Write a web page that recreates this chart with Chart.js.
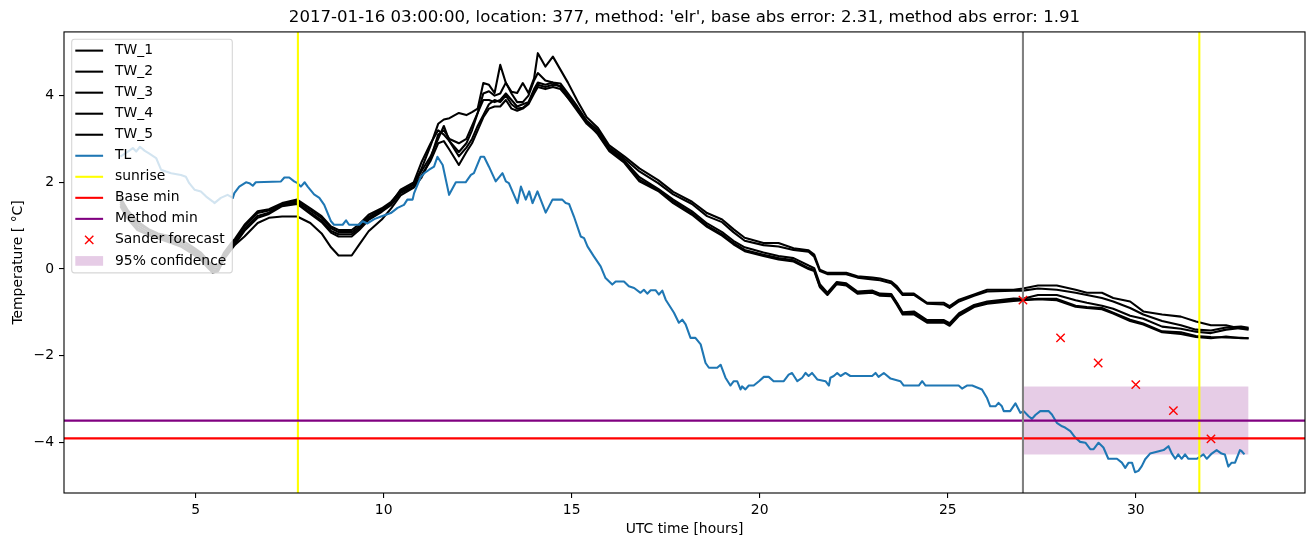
<!DOCTYPE html>
<html>
<head>
<meta charset="utf-8">
<script src="https://cdn.jsdelivr.net/npm/chart.js@4.4.1/dist/chart.umd.min.js"></script>
<style>
  html, body { margin: 0; padding: 0; background: #ffffff; }
  canvas { display: block; }
</style>
</head>
<body>
<canvas id="c" width="1313" height="547"></canvas>
<script>
// ---------------- data ----------------
const TITLE = "2017-01-16 03:00:00, location: 377, method: 'elr', base abs error: 2.31, method abs error: 1.91";
const X_LABEL = "UTC time [hours]";
const Y_LABEL = "Temperature [ °C]";

const TW_hours = [3.0,3.2,3.45,3.75,4.0,4.35,4.6,4.9,5.15,5.3,5.45,5.6,5.75,5.95,
  6.05,6.3,6.65,6.95,7.3,7.7,8.05,8.35,8.6,8.8,9.15,9.35,9.6,9.95,10.2,
  10.45,10.8,11.0,11.25,11.45,
  11.6,11.75,12.0,12.2,12.35,12.5,12.65,12.8,12.95,13.1,13.25,13.4,13.55,13.7,13.85,14.0,14.1,14.3,14.5,14.7,14.9,15.15,15.4,
  15.7,16.0,16.4,16.8,17.3,17.7,18.2,18.6,19.0,19.3,19.6,20.1,20.5,20.9,21.3,21.45,21.6,21.8,22.05,22.3,22.6,23.0,23.2,23.5,23.65,23.8,24.1,24.45,24.9,25.05,25.3,25.7,26.05,26.75,27.0,
  27.4,27.9,28.4,28.7,29.1,29.4,29.85,30.2,30.7,31.2,31.6,32.0,32.4,32.8,33.0];

const TW_1 = [1.65,1.35,1.1,0.92,0.82,0.75,0.68,0.52,0.37,0.22,0.08,0.1,0.37,0.6,
  0.7,1.02,1.33,1.38,1.52,1.6,1.4,1.22,0.98,0.9,0.9,1.03,1.25,1.4,1.55,
  1.8,1.95,2.3,2.85,3.35,
  3.45,3.48,3.6,3.55,3.62,3.7,4.29,4.25,4.06,4.71,4.29,4.09,4.06,4.29,4.06,4.4,4.98,4.67,4.9,4.6,4.3,3.88,3.5,
  3.25,2.85,2.6,2.32,2.05,1.78,1.55,1.29,1.14,0.92,0.72,0.6,0.6,0.48,0.43,0.33,-0.02,-0.09,-0.09,-0.09,-0.17,-0.2,-0.22,-0.29,-0.4,-0.57,-0.57,-0.78,-0.78,-0.86,-0.71,-0.59,-0.48,-0.48,-0.45,
  -0.38,-0.38,-0.48,-0.55,-0.55,-0.67,-0.75,-0.98,-1.05,-1.1,-1.21,-1.3,-1.3,-1.38,-1.4];

const TW_2 = [1.6,1.3,1.05,0.9,0.8,0.7,0.62,0.48,0.33,0.18,0.04,0.07,0.33,0.56,
  0.65,0.98,1.29,1.35,1.5,1.56,1.35,1.18,0.94,0.85,0.85,0.98,1.2,1.37,1.52,
  1.83,2.0,2.45,2.9,3.2,
  3.1,2.95,2.7,2.9,3.2,3.6,4.05,4.1,4.0,4.05,4.3,4.05,3.85,3.85,4.0,4.35,4.52,4.35,4.3,4.28,4.05,3.75,3.42,
  3.2,2.8,2.55,2.25,1.98,1.72,1.5,1.22,1.08,0.85,0.65,0.55,0.52,0.44,0.4,0.28,-0.05,-0.12,-0.12,-0.12,-0.2,-0.24,-0.26,-0.33,-0.45,-0.6,-0.6,-0.8,-0.82,-0.9,-0.75,-0.62,-0.52,-0.5,-0.5,
  -0.45,-0.48,-0.55,-0.6,-0.67,-0.75,-0.9,-1.05,-1.2,-1.3,-1.4,-1.42,-1.35,-1.33,-1.36];

const TW_3 = [1.55,1.25,1.0,0.85,0.75,0.67,0.6,0.44,0.29,0.14,0.0,0.02,0.29,0.52,
  0.6,0.92,1.22,1.3,1.48,1.52,1.3,1.12,0.88,0.8,0.8,0.94,1.17,1.35,1.5,
  1.78,1.95,2.25,2.6,3.0,
  3.3,2.95,2.6,2.8,3.0,3.3,3.55,3.8,3.9,3.85,4.0,3.8,3.7,3.72,3.82,4.1,4.25,4.2,4.25,4.22,4.0,3.68,3.38,
  3.15,2.78,2.5,2.12,1.85,1.6,1.33,1.05,0.85,0.65,0.5,0.38,0.3,0.25,0.08,0.02,-0.35,-0.55,-0.3,-0.33,-0.52,-0.5,-0.57,-0.58,-0.78,-1.0,-0.98,-1.18,-1.18,-1.25,-1.02,-0.83,-0.75,-0.68,-0.69,
  -0.6,-0.6,-0.72,-0.78,-0.85,-0.92,-1.08,-1.15,-1.33,-1.38,-1.45,-1.48,-1.4,-1.36,-1.38];

const TW_4 = [1.5,1.2,0.95,0.8,0.72,0.62,0.55,0.4,0.25,0.1,-0.04,-0.02,0.25,0.48,
  0.58,0.88,1.18,1.27,1.45,1.5,1.27,1.08,0.84,0.75,0.75,0.9,1.13,1.32,1.48,
  1.75,1.9,2.15,2.5,2.9,
  2.95,2.75,2.4,2.7,2.9,3.2,3.5,3.7,3.75,3.75,3.9,3.7,3.65,3.7,3.8,4.05,4.2,4.15,4.2,4.15,3.95,3.65,3.35,
  3.12,2.75,2.48,2.06,1.83,1.56,1.28,1.0,0.8,0.6,0.44,0.33,0.25,0.2,0.02,-0.02,-0.4,-0.57,-0.32,-0.35,-0.55,-0.52,-0.59,-0.6,-0.8,-1.03,-1.01,-1.21,-1.21,-1.28,-1.05,-0.86,-0.78,-0.71,-0.71,
  -0.69,-0.69,-0.85,-0.88,-0.9,-1.01,-1.17,-1.26,-1.44,-1.46,-1.55,-1.57,-1.58,-1.59,-1.6];

const TW_5 = [1.45,1.15,0.9,0.78,0.7,0.6,0.52,0.36,0.2,0.05,-0.08,-0.05,0.22,0.45,
  0.56,0.75,1.06,1.18,1.21,1.21,1.06,0.82,0.5,0.31,0.31,0.56,0.87,1.14,1.4,
  1.7,1.88,2.1,2.55,3.1,
  3.2,3.0,2.9,3.0,3.3,3.6,3.9,3.9,3.85,3.9,4.05,3.9,3.75,3.8,3.85,4.15,4.3,4.25,4.3,4.2,3.95,3.7,3.4,
  3.1,2.72,2.45,2.02,1.8,1.52,1.25,0.97,0.77,0.57,0.41,0.3,0.22,0.17,0.0,-0.05,-0.42,-0.6,-0.35,-0.38,-0.57,-0.55,-0.62,-0.63,-0.83,-1.05,-1.05,-1.24,-1.24,-1.31,-1.08,-0.88,-0.8,-0.74,-0.72,
  -0.7,-0.72,-0.87,-0.9,-0.93,-1.03,-1.2,-1.28,-1.46,-1.5,-1.57,-1.6,-1.56,-1.6,-1.6];

const TL_hours = [3.0,3.2,3.33,3.42,3.52,3.64,3.77,3.95,4.08,4.21,
  4.35,4.61,4.74,4.83,4.97,5.14,5.28,5.45,5.5,5.67,
  5.85,5.99,6.03,6.16,6.34,6.43,6.52,6.6,7.27,7.36,
  7.49,7.62,7.71,7.8,7.9,7.98,8.15,8.29,8.42,8.51,
  8.6,8.68,8.91,9.0,9.08,9.35,9.44,9.57,9.75,9.93,
  10.19,10.37,10.54,10.63,10.77,10.81,10.99,11.08,11.21,11.34,
  11.43,11.57,11.74,11.92,12.18,12.32,12.4,12.58,12.67,12.8,
  12.98,13.16,13.25,13.33,13.56,13.65,13.78,13.87,13.96,14.09,
  14.31,14.49,14.75,14.84,14.93,15.06,15.24,15.33,15.42,15.59,
  15.77,15.9,16.08,16.17,16.39,16.52,16.66,16.83,16.92,17.01,
  17.1,17.23,17.32,17.41,17.5,17.72,17.85,17.94,18.03,18.16,
  18.29,18.43,18.56,18.65,18.87,18.96,19.09,19.22,19.31,19.4,
  19.49,19.53,19.62,19.71,19.84,19.98,20.11,20.24,20.37,20.64,
  20.77,20.86,21.0,21.13,21.22,21.3,21.39,21.53,21.75,21.84,
  21.88,21.97,22.06,22.15,22.28,22.41,22.99,23.08,23.16,23.3,
  23.48,23.74,23.83,24.23,24.32,24.41,25.29,25.38,25.51,25.65,
  25.91,26.04,26.13,26.27,26.35,26.44,26.49,26.66,26.8,26.93,
  27.02,27.15,27.24,27.33,27.46,27.68,27.77,27.9,28.04,28.12,
  28.26,28.39,28.52,28.66,28.79,28.88,29.01,29.14,29.27,29.5,
  29.63,29.72,29.81,29.9,29.98,30.07,30.16,30.25,30.38,30.74,
  30.87,30.96,31.05,31.13,31.22,31.31,31.4,31.62,31.8,31.89,
  32.02,32.15,32.28,32.37,32.46,32.55,32.64,32.77,32.81,32.89];

const TL_values = [2.59,2.71,2.79,2.71,2.82,2.73,2.66,2.56,2.29,2.25,
  2.21,2.17,2.13,1.98,1.83,1.79,1.67,1.56,1.52,1.64,
  1.71,1.64,1.75,1.9,2.0,1.98,1.92,2.0,2.02,2.11,
  2.11,2.02,1.98,1.9,2.0,1.9,1.72,1.64,1.48,1.29,
  1.1,1.02,1.02,1.12,1.02,1.02,1.1,1.05,1.15,1.21,
  1.29,1.41,1.48,1.6,1.6,1.75,2.13,2.21,2.29,2.36,
  2.59,2.4,1.71,2.0,2.0,2.17,2.21,2.59,2.59,2.36,
  2.02,2.21,2.02,1.98,1.52,1.9,1.6,1.79,1.52,1.79,
  1.3,1.6,1.6,1.52,1.5,1.21,0.75,0.71,0.52,0.29,
  0.06,-0.21,-0.36,-0.29,-0.29,-0.4,-0.44,-0.55,-0.48,-0.57,
  -0.49,-0.49,-0.59,-0.5,-0.71,-1.01,-1.24,-1.17,-1.28,-1.59,
  -1.59,-1.74,-2.17,-2.28,-2.28,-2.21,-2.51,-2.69,-2.59,-2.59,
  -2.78,-2.71,-2.78,-2.69,-2.69,-2.59,-2.49,-2.49,-2.59,-2.59,
  -2.44,-2.4,-2.59,-2.51,-2.4,-2.47,-2.4,-2.55,-2.59,-2.69,
  -2.51,-2.47,-2.4,-2.47,-2.4,-2.47,-2.47,-2.4,-2.49,-2.4,
  -2.53,-2.59,-2.69,-2.69,-2.59,-2.69,-2.69,-2.76,-2.69,-2.69,
  -2.78,-2.97,-3.17,-3.17,-3.09,-3.17,-3.28,-3.28,-3.1,-3.32,
  -3.28,-3.4,-3.46,-3.37,-3.28,-3.28,-3.36,-3.55,-3.63,-3.66,
  -3.74,-3.89,-3.99,-4.01,-4.16,-4.16,-4.01,-4.12,-4.38,-4.38,
  -4.47,-4.59,-4.47,-4.47,-4.69,-4.66,-4.55,-4.39,-4.26,-4.18,
  -4.09,-4.26,-4.38,-4.28,-4.38,-4.28,-4.38,-4.38,-4.28,-4.38,
  -4.26,-4.18,-4.26,-4.28,-4.56,-4.47,-4.47,-4.18,-4.2,-4.28];

const sunrise_hours = [7.72, 31.69];
const base_min = -3.91;
const method_min = -3.50;
const forecast_time = 27;
const sander_hours = [27, 28, 29, 30, 31, 32];
const sander_values = [-0.72, -1.59, -2.17, -2.67, -3.27, -3.92];
const conf_hours = [27, 33];
const conf_low = -4.28;
const conf_high = -2.71;

const X_MIN = 1.5, X_MAX = 34.5, Y_MIN = -5.17, Y_MAX = 5.47;
const X_TICK_STEP = 5, Y_TICK_STEP = 2;

// ---------------- helpers ----------------
const FONT = "'DejaVu Sans', 'Liberation Sans', sans-serif";
const LW = 2.08;
const zip = (xs, ys) => xs.map((x, i) => ({x: x, y: ys[i]}));
const vline = (xs) => {
  const out = [];
  xs.forEach((x, i) => {
    if (i > 0) out.push({x: x, y: null});
    out.push({x: x, y: -100}, {x: x, y: 100});
  });
  return out;
};
const hline = (y) => [{x: -100, y: y}, {x: 100, y: y}];

const lineDs = (label, data, color, order, legendKind) => ({
  label, data, borderColor: color, backgroundColor: color, borderWidth: LW,
  pointRadius: 0, pointHoverRadius: 0, tension: 0, fill: false, spanGaps: false,
  borderJoinStyle: 'round', borderCapStyle: 'butt', order, legendKind
});

const TW_sets = [TW_1, TW_2, TW_3, TW_4, TW_5];
const datasets = [];
TW_sets.forEach((vals, i) => {
  datasets.push(lineDs('TW_' + (i + 1), zip(TW_hours, vals), '#000000', 90 - i, 'line'));
});
datasets.push(lineDs('TL', zip(TL_hours, TL_values), '#1f77b4', 80, 'line'));
datasets.push(lineDs('sunrise', vline(sunrise_hours), '#ffff00', 70, 'line'));
datasets.push(lineDs('Base min', hline(base_min), '#ff0000', 60, 'line'));
datasets.push(lineDs('Method min', hline(method_min), '#800080', 50, 'line'));
datasets.push(lineDs('forecast time', vline([forecast_time]), '#808080', 45, null));
datasets.push({
  label: 'Sander forecast', data: zip(sander_hours, sander_values), showLine: false,
  pointStyle: 'crossRot', pointRadius: 5.9, pointHoverRadius: 5.9, pointBorderWidth: 1.4,
  pointBorderColor: '#ff0000', pointBackgroundColor: '#ff0000', borderColor: '#ff0000',
  order: 10, legendKind: 'x'
});
datasets.push({
  label: 'conf low', data: zip(conf_hours, conf_hours.map(() => conf_low)),
  borderWidth: 0, pointRadius: 0, borderColor: 'rgba(0,0,0,0)', fill: false, order: 101, legendKind: null
});
datasets.push({
  label: '95% confidence', data: zip(conf_hours, conf_hours.map(() => conf_high)),
  borderWidth: 0, pointRadius: 0, borderColor: 'rgba(0,0,0,0)',
  backgroundColor: 'rgba(128,0,128,0.2)', fill: '-1', order: 100, legendKind: 'patch'
});

// ---------------- plugins ----------------
const framePlugin = {
  id: 'frame',
  afterDatasetsDraw(chart) {
    const {ctx, chartArea: a} = chart;
    ctx.save();
    ctx.strokeStyle = '#000';
    ctx.lineWidth = 1.1;
    ctx.strokeRect(a.left, a.top, a.right - a.left, a.bottom - a.top);
    ctx.restore();
  }
};

const legendPlugin = {
  id: 'mplLegend',
  afterDraw(chart) {
    const {ctx, chartArea: a} = chart;
    const items = chart.data.datasets.filter(d => d.legendKind);
    const x0 = a.left + 7.7, y0 = a.top + 7.3;
    const w = 160.6, rowH = 21.03;
    const h = 11.4 * 2 + rowH * (items.length - 1) + 0.6;
    ctx.save();
    const r = 2.8;
    ctx.beginPath();
    ctx.moveTo(x0 + r, y0);
    ctx.lineTo(x0 + w - r, y0);
    ctx.arcTo(x0 + w, y0, x0 + w, y0 + r, r);
    ctx.lineTo(x0 + w, y0 + h - r);
    ctx.arcTo(x0 + w, y0 + h, x0 + w - r, y0 + h, r);
    ctx.lineTo(x0 + r, y0 + h);
    ctx.arcTo(x0, y0 + h, x0, y0 + h - r, r);
    ctx.lineTo(x0, y0 + r);
    ctx.arcTo(x0, y0, x0 + r, y0, r);
    ctx.closePath();
    ctx.fillStyle = 'rgba(255,255,255,0.8)';
    ctx.fill();
    ctx.strokeStyle = 'rgba(204,204,204,0.8)';
    ctx.lineWidth = 1.1;
    ctx.stroke();

    ctx.font = '13.9px ' + FONT;
    ctx.textBaseline = 'middle';
    ctx.textAlign = 'left';
    items.forEach((d, i) => {
      const cy = y0 + 11.4 + i * rowH;
      const hx0 = x0 + 3.6, hx1 = x0 + 31.4, hc = (hx0 + hx1) / 2;
      if (d.legendKind === 'line') {
        ctx.strokeStyle = d.borderColor;
        ctx.lineWidth = LW;
        ctx.lineCap = 'butt';
        ctx.beginPath();
        ctx.moveTo(hx0, cy);
        ctx.lineTo(hx1, cy);
        ctx.stroke();
      } else if (d.legendKind === 'x') {
        const s = 4.17;
        ctx.strokeStyle = d.pointBorderColor;
        ctx.lineWidth = 1.4;
        ctx.beginPath();
        ctx.moveTo(hc - s, cy - s); ctx.lineTo(hc + s, cy + s);
        ctx.moveTo(hc - s, cy + s); ctx.lineTo(hc + s, cy - s);
        ctx.stroke();
      } else if (d.legendKind === 'patch') {
        ctx.fillStyle = d.backgroundColor;
        ctx.fillRect(hx0, cy - 4.85, hx1 - hx0, 9.7);
      }
      ctx.fillStyle = '#000';
      ctx.fillText(d.label, x0 + 43.3, cy);
    });
    ctx.restore();
  }
};

// ---------------- chart ----------------
Chart.defaults.font.family = FONT;
Chart.defaults.color = '#000';

const minusFmt = (v) => String(v).replace('-', '\u2212');

new Chart(document.getElementById('c').getContext('2d'), {
  type: 'line',
  data: {datasets},
  options: {
    responsive: false,
    devicePixelRatio: 1,
    animation: false,
    events: [],
    layout: {padding: {left: 0, right: 8, top: 0, bottom: 0}},
    plugins: {
      legend: {display: false},
      tooltip: {enabled: false},
      title: {
        display: true, text: TITLE, color: '#000', fullSize: false,
        font: {family: FONT, size: 16.6, weight: 'normal', lineHeight: 1.2},
        padding: {top: 8, bottom: 4}
      }
    },
    scales: {
      x: {
        type: 'linear', min: X_MIN, max: X_MAX,
        afterFit: (s) => { s.height = 54; },
        ticks: {stepSize: X_TICK_STEP, includeBounds: false, padding: 4, color: '#000',
                font: {family: FONT, size: 13.9}, maxRotation: 0, callback: minusFmt},
        grid: {display: true, drawOnChartArea: false, drawTicks: true, tickLength: 5, color: '#000', lineWidth: 1.1},
        border: {display: false},
        title: {display: true, text: X_LABEL, color: '#000', font: {family: FONT, size: 13.9}, padding: {top: 0, bottom: 9.7}}
      },
      y: {
        type: 'linear', min: Y_MIN, max: Y_MAX,
        afterFit: (s) => { s.width = 64; },
        ticks: {stepSize: Y_TICK_STEP, includeBounds: false, padding: 5, color: '#000',
                font: {family: FONT, size: 13.9}, callback: minusFmt},
        grid: {display: true, drawOnChartArea: false, drawTicks: true, tickLength: 5, color: '#000', lineWidth: 1.1},
        border: {display: false},
        title: {display: true, text: Y_LABEL, color: '#000', font: {family: FONT, size: 13.9}, padding: {top: 9.7, bottom: 0}}
      }
    }
  },
  plugins: [framePlugin, legendPlugin]
});
</script>
</body>
</html>
